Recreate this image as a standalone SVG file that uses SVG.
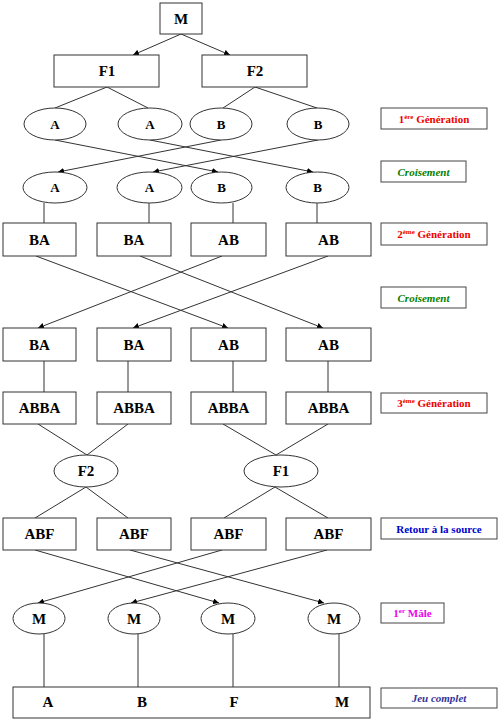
<svg xmlns="http://www.w3.org/2000/svg" width="500" height="720" viewBox="0 0 500 720">
<style>
.bg{fill:#fff}
.n{fill:#fff;stroke:#333;stroke-width:1}
.c{stroke:#333;stroke-width:1;fill:none}
.a{stroke:#333;stroke-width:1;fill:none;marker-end:url(#arr)}
.t{font-family:"Liberation Serif","Times New Roman",serif;font-weight:bold;font-size:15px;text-anchor:middle;fill:#000}
.te{font-family:"Liberation Serif","Times New Roman",serif;font-weight:bold;font-size:13px;text-anchor:middle;fill:#000}
.lb{fill:#fff;stroke:#444;stroke-width:1}
.l{font-family:"Liberation Serif","Times New Roman",serif;font-weight:bold;font-size:11px;text-anchor:middle}
.sup{font-size:7px}
</style>
<defs>
<marker id="arr" markerUnits="userSpaceOnUse" markerWidth="7" markerHeight="6" refX="6" refY="3" orient="auto">
<path d="M0,0 L6,3 L0,6 z" fill="#000"/>
</marker>
</defs>
<rect class="bg" x="0" y="0" width="500" height="720"/>
<g id="connectors">
<line class="a" x1="181" y1="34" x2="133" y2="55"/>
<line class="a" x1="181" y1="34" x2="230" y2="55"/>
<line class="c" x1="107" y1="87" x2="55" y2="108"/>
<line class="c" x1="107" y1="87" x2="148" y2="108"/>
<line class="c" x1="255" y1="87" x2="223" y2="108"/>
<line class="c" x1="255" y1="87" x2="317" y2="108"/>
<line class="a" x1="55" y1="140" x2="218" y2="172"/>
<line class="a" x1="150" y1="140" x2="313" y2="172"/>
<line class="a" x1="221" y1="140" x2="58" y2="172"/>
<line class="a" x1="318" y1="140" x2="153" y2="172"/>
<line class="c" x1="44" y1="203" x2="44" y2="223"/>
<line class="c" x1="149" y1="203" x2="149" y2="223"/>
<line class="c" x1="233" y1="203" x2="233" y2="223"/>
<line class="c" x1="317" y1="203" x2="317" y2="223"/>
<line class="a" x1="36" y1="256" x2="228" y2="328"/>
<line class="a" x1="140" y1="256" x2="323" y2="328"/>
<line class="a" x1="222" y1="256" x2="38" y2="328"/>
<line class="a" x1="328" y1="256" x2="133" y2="328"/>
<line class="c" x1="44" y1="361" x2="44" y2="392"/>
<line class="c" x1="128" y1="361" x2="128" y2="392"/>
<line class="c" x1="233" y1="361" x2="233" y2="392"/>
<line class="c" x1="328" y1="361" x2="328" y2="392"/>
<line class="c" x1="38" y1="424" x2="87" y2="455"/>
<line class="c" x1="128" y1="424" x2="87" y2="455"/>
<line class="c" x1="223" y1="424" x2="276" y2="455"/>
<line class="c" x1="328" y1="424" x2="276" y2="455"/>
<line class="c" x1="86" y1="487" x2="35" y2="518"/>
<line class="c" x1="86" y1="487" x2="128" y2="518"/>
<line class="c" x1="275" y1="487" x2="224" y2="518"/>
<line class="c" x1="275" y1="487" x2="328" y2="518"/>
<line class="a" x1="35" y1="550" x2="219" y2="603"/>
<line class="a" x1="130" y1="550" x2="324" y2="603"/>
<line class="a" x1="222" y1="550" x2="38" y2="603"/>
<line class="a" x1="327" y1="550" x2="131" y2="603"/>
<line class="c" x1="44" y1="634" x2="44" y2="687"/>
<line class="c" x1="138" y1="634" x2="138" y2="687"/>
<line class="c" x1="233" y1="634" x2="233" y2="687"/>
<line class="c" x1="339" y1="634" x2="339" y2="687"/>
</g>
<g id="n-M"><rect class="n" x="160" y="3" width="42" height="31"/><text class="t" x="181" y="24">M</text></g>
<g id="n-F1"><rect class="n" x="54" y="55" width="105" height="32"/><text class="t" x="107" y="76">F1</text></g>
<g id="n-F2"><rect class="n" x="202" y="55" width="105" height="32"/><text class="t" x="255" y="76">F2</text></g>
<g id="n-g1a1"><ellipse class="n" cx="55" cy="124" rx="31" ry="16"/><text class="te" x="55" y="128.5">A</text></g>
<g id="n-g1a2"><ellipse class="n" cx="150" cy="124" rx="32" ry="16"/><text class="te" x="150" y="128.5">A</text></g>
<g id="n-g1b1"><ellipse class="n" cx="221" cy="124" rx="31" ry="16"/><text class="te" x="221" y="128.5">B</text></g>
<g id="n-g1b2"><ellipse class="n" cx="318" cy="124" rx="31" ry="16"/><text class="te" x="318" y="128.5">B</text></g>
<g id="n-c1a1"><ellipse class="n" cx="55" cy="187.5" rx="32" ry="15.5"/><text class="te" x="55" y="192">A</text></g>
<g id="n-c1a2"><ellipse class="n" cx="149.5" cy="187.5" rx="32.5" ry="15.5"/><text class="te" x="149.5" y="192">A</text></g>
<g id="n-c1b1"><ellipse class="n" cx="221.5" cy="187.5" rx="30.5" ry="15.5"/><text class="te" x="221.5" y="192">B</text></g>
<g id="n-c1b2"><ellipse class="n" cx="317.5" cy="187.5" rx="31.5" ry="15.5"/><text class="te" x="317.5" y="192">B</text></g>
<g id="n-g2-1"><rect class="n" x="3" y="223" width="73" height="33"/><text class="t" x="39.5" y="244.5">BA</text></g>
<g id="n-g2-2"><rect class="n" x="97" y="223" width="74" height="33"/><text class="t" x="134" y="244.5">BA</text></g>
<g id="n-g2-3"><rect class="n" x="191" y="223" width="75" height="33"/><text class="t" x="228.5" y="244.5">AB</text></g>
<g id="n-g2-4"><rect class="n" x="286" y="223" width="85" height="33"/><text class="t" x="328.5" y="244.5">AB</text></g>
<g id="n-c2-1"><rect class="n" x="3" y="328" width="73" height="33"/><text class="t" x="39.5" y="349.5">BA</text></g>
<g id="n-c2-2"><rect class="n" x="97" y="328" width="74" height="33"/><text class="t" x="134" y="349.5">BA</text></g>
<g id="n-c2-3"><rect class="n" x="191" y="328" width="75" height="33"/><text class="t" x="228.5" y="349.5">AB</text></g>
<g id="n-c2-4"><rect class="n" x="286" y="328" width="85" height="33"/><text class="t" x="328.5" y="349.5">AB</text></g>
<g id="n-g3-1"><rect class="n" x="3" y="392" width="73" height="32"/><text class="t" x="39.5" y="413">ABBA</text></g>
<g id="n-g3-2"><rect class="n" x="97" y="392" width="74" height="32"/><text class="t" x="134" y="413">ABBA</text></g>
<g id="n-g3-3"><rect class="n" x="191" y="392" width="75" height="32"/><text class="t" x="228.5" y="413">ABBA</text></g>
<g id="n-g3-4"><rect class="n" x="286" y="392" width="85" height="32"/><text class="t" x="328.5" y="413">ABBA</text></g>
<g id="n-rF2"><ellipse class="n" cx="86" cy="471" rx="32" ry="16"/><text class="t" x="86" y="476">F2</text></g>
<g id="n-rF1"><ellipse class="n" cx="281" cy="471" rx="37" ry="16"/><text class="t" x="281" y="476">F1</text></g>
<g id="n-abf1"><rect class="n" x="3" y="518" width="73" height="32"/><text class="t" x="39.5" y="539">ABF</text></g>
<g id="n-abf2"><rect class="n" x="97" y="518" width="74" height="32"/><text class="t" x="134" y="539">ABF</text></g>
<g id="n-abf3"><rect class="n" x="191" y="518" width="75" height="32"/><text class="t" x="228.5" y="539">ABF</text></g>
<g id="n-abf4"><rect class="n" x="286" y="518" width="85" height="32"/><text class="t" x="328.5" y="539">ABF</text></g>
<g id="n-m1"><ellipse class="n" cx="39" cy="618.5" rx="26" ry="15.5"/><text class="t" x="39" y="623.5">M</text></g>
<g id="n-m2"><ellipse class="n" cx="134" cy="618.5" rx="26" ry="15.5"/><text class="t" x="134" y="623.5">M</text></g>
<g id="n-m3"><ellipse class="n" cx="228" cy="618.5" rx="27" ry="15.5"/><text class="t" x="228" y="623.5">M</text></g>
<g id="n-m4"><ellipse class="n" cx="334" cy="618.5" rx="26" ry="15.5"/><text class="t" x="334" y="623.5">M</text></g>
<g id="n-jeu"><rect class="n" x="13" y="687" width="357" height="31"/>
<text class="t" x="48" y="707">A</text><text class="t" x="142" y="707">B</text><text class="t" x="234" y="707">F</text><text class="t" x="342" y="707">M</text></g>
<g id="lab-g1"><rect class="lb" x="381" y="108" width="106" height="21"/><text class="l" x="434" y="122.5" fill="#ee0000">1<tspan class="sup" dy="-4">ère</tspan><tspan dy="4"> Génération</tspan></text></g>
<g id="lab-c1"><rect class="lb" x="381" y="161" width="85" height="21"/><text class="l" x="423.5" y="175.5" fill="#008000" font-style="italic">Croisement</text></g>
<g id="lab-g2"><rect class="lb" x="381" y="223" width="106" height="22"/><text class="l" x="434" y="238" fill="#ee0000">2<tspan class="sup" dy="-4">ème</tspan><tspan dy="4"> Génération</tspan></text></g>
<g id="lab-c2"><rect class="lb" x="381" y="287" width="85" height="21"/><text class="l" x="423.5" y="301.5" fill="#008000" font-style="italic">Croisement</text></g>
<g id="lab-g3"><rect class="lb" x="381" y="393" width="106" height="20"/><text class="l" x="434" y="407" fill="#ee0000">3<tspan class="sup" dy="-4">ème</tspan><tspan dy="4"> Génération</tspan></text></g>
<g id="lab-ret"><rect class="lb" x="381" y="518" width="116" height="21"/><text class="l" x="439" y="532.5" fill="#0000cc">Retour à la source</text></g>
<g id="lab-male"><rect class="lb" x="381" y="603" width="63" height="20"/><text class="l" x="412.5" y="617" fill="#ee00ee">1<tspan class="sup" dy="-4">er</tspan><tspan dy="4"> Mâle</tspan></text></g>
<g id="lab-jeu"><rect class="lb" x="381" y="688" width="116" height="20"/><text class="l" x="439" y="702" fill="#333399" font-style="italic">Jeu complet</text></g>
</svg>
